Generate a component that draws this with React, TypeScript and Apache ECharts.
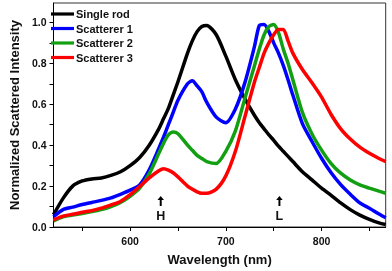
import React, { useEffect, useRef } from "react";
import * as echarts from "echarts";

const wavelengths = [520,530,540,550,560,570,580,590,600,610,620,630,635,640,645,650,660,665,670,675,680,690,700,710,720,730,735,740,745,750,755,760,765,770,780,790,800,810,820,830,840,850,860,867];

const singleRod = [0.06,0.14,0.2,0.225,0.235,0.24,0.252,0.27,0.3,0.34,0.4,0.48,0.53,0.58,0.645,0.71,0.85,0.91,0.955,0.98,0.985,0.94,0.835,0.72,0.626,0.545,0.51,0.48,0.45,0.424,0.395,0.37,0.345,0.32,0.27,0.23,0.19,0.155,0.118,0.085,0.058,0.037,0.02,0.012];
const scatterer1 = [0.05,0.085,0.097,0.11,0.12,0.13,0.142,0.16,0.18,0.206,0.28,0.384,0.44,0.5,0.56,0.62,0.7,0.715,0.69,0.66,0.61,0.537,0.51,0.577,0.707,0.884,0.985,0.99,0.955,0.9,0.85,0.79,0.72,0.645,0.505,0.418,0.336,0.265,0.207,0.16,0.118,0.092,0.063,0.045];
const scatterer2 = [0.03,0.05,0.058,0.066,0.075,0.085,0.1,0.12,0.15,0.19,0.26,0.36,0.41,0.45,0.465,0.456,0.4,0.375,0.35,0.335,0.32,0.31,0.37,0.47,0.63,0.79,0.87,0.94,0.98,0.99,0.95,0.87,0.8,0.72,0.56,0.455,0.376,0.31,0.263,0.23,0.206,0.19,0.175,0.165];
const scatterer3 = [0.035,0.053,0.062,0.072,0.08,0.092,0.108,0.125,0.158,0.198,0.24,0.275,0.285,0.278,0.265,0.245,0.2,0.185,0.172,0.165,0.165,0.185,0.25,0.37,0.54,0.71,0.78,0.85,0.9,0.94,0.965,0.965,0.91,0.85,0.77,0.705,0.635,0.55,0.48,0.43,0.39,0.36,0.335,0.32];

const seriesNames = ["Single rod", "Scatterer 1", "Scatterer 2", "Scatterer 3"];
const seriesColors = ["#000000", "#0000ff", "#12a012", "#ff0000"];
const seriesValues = [singleRod, scatterer1, scatterer2, scatterer3];

const xLabelTicks = [600, 700, 800];
const xTicks = [550, 600, 650, 700, 750, 800, 850];
const yLabelTicks = [0, 0.2, 0.4, 0.6, 0.8, 1.0];
const yTicks = [0, 0.1, 0.2, 0.3, 0.4, 0.5, 0.6, 0.7, 0.8, 0.9, 1.0];

const annotLabels = ["H", "L"];
const annotWavelengths = [632, 756];
const arrowLevel = 0.127;
const labelLevel = 0.053;

const FONT = "'Liberation Sans', Arial, sans-serif";
const ARROW = "path://M5,0 L10,6.5 L6.5,6.5 L6.5,16 L3.5,16 L3.5,6.5 L0,6.5 Z";
const LEGEND_LINE = "path://M0,0 M0,3.4 L23,3.4 L23,6.6 L0,6.6 Z M23,10";

export default function App() {
  const ref = useRef<HTMLDivElement>(null);
  useEffect(() => {
    if (!ref.current) return;
    const chart = echarts.init(ref.current, undefined, { renderer: "svg" });
    const markData: any[] = [];
    annotLabels.forEach((lab, i) => {
      markData.push({
        coord: [annotWavelengths[i], arrowLevel],
        symbol: ARROW,
        symbolSize: [6.5, 10],
        itemStyle: { color: "#000" },
        label: { show: false },
      });
      markData.push({
        coord: [annotWavelengths[i], labelLevel],
        symbol: "circle",
        symbolSize: 0,
        label: {
          show: true,
          position: "inside",
          formatter: lab,
          color: "#111",
          fontFamily: FONT,
          fontWeight: "bold",
          fontSize: 12.5,
        },
      });
    });
    const series = seriesNames.map((name, si) => ({
      name,
      type: "line",
      data: wavelengths.map((w, i) => [w, seriesValues[si][i]]),
      symbol: "none",
      smooth: 0.25,
      lineStyle: { color: seriesColors[si], width: 3.5 },
      itemStyle: { color: seriesColors[si] },
      z: 2 + si,
      ...(si === 0
        ? { markPoint: { silent: true, animation: false, data: markData } }
        : {}),
    }));
    chart.setOption({
      animation: false,
      grid: {
        left: 41.7,
        right: 6.3,
        top: 3,
        bottom: 41.7,
        show: true,
        borderColor: "#333",
        borderWidth: 1,
        backgroundColor: "transparent",
      },
      legend: {
        orient: "vertical",
        left: 51,
        top: 8.5,
        padding: 0,
        itemWidth: 23,
        itemHeight: 10,
        itemGap: 3.5,
        icon: LEGEND_LINE,
        data: seriesNames,
        textStyle: { fontFamily: FONT, fontWeight: "bold", fontSize: 11, color: "#111", padding: [0, 0, 0, -3] },
      },
      xAxis: {
        type: "value",
        min: 520,
        max: 867,
        name: "Wavelength (nm)",
        nameLocation: "middle",
        nameGap: 26,
        nameTextStyle: { fontFamily: FONT, fontWeight: "bold", fontSize: 13, color: "#111" },
        axisLine: { show: true, onZero: false, lineStyle: { color: "#000", width: 1 } },
        axisTick: { show: true, customValues: xTicks, length: 4, lineStyle: { color: "#000" } },
        axisLabel: {
          customValues: xLabelTicks,
          margin: 8,
          fontFamily: FONT,
          fontWeight: "bold",
          fontSize: 10.5,
          color: "#111",
        },
        splitLine: { show: false },
      },
      yAxis: {
        type: "value",
        min: 0,
        max: 1.095,
        name: "Normalized Scattered Intensity",
        nameLocation: "middle",
        nameGap: 28,
        nameTextStyle: { fontFamily: FONT, fontWeight: "bold", fontSize: 13, color: "#111" },
        axisLine: { show: true, onZero: false, lineStyle: { color: "#000", width: 1 } },
        axisTick: { show: true, customValues: yTicks, length: 4, lineStyle: { color: "#000" } },
        axisLabel: {
          customValues: yLabelTicks,
          margin: 7,
          formatter: (v: number) => v.toFixed(1),
          fontFamily: FONT,
          fontWeight: "bold",
          fontSize: 10.5,
          color: "#111",
        },
        splitLine: { show: false },
      },
      series,
    });
    return () => chart.dispose();
  }, []);
  return (
    <div
      ref={ref}
      style={{ position: "fixed", left: 0, top: 0, width: 392, height: 271 }}
    />
  );
}
